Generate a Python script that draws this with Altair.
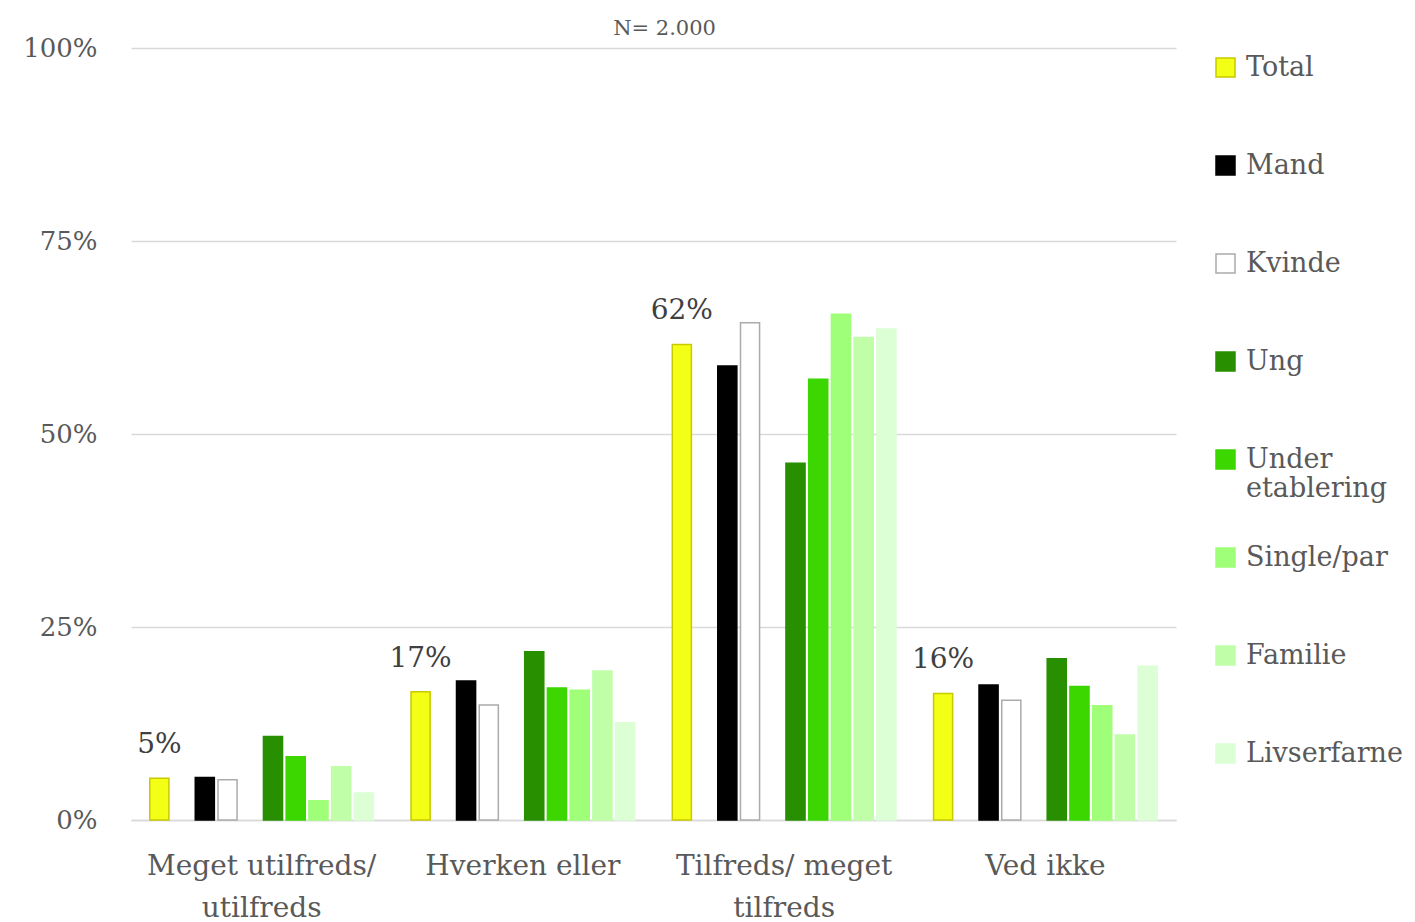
import altair as alt
import pandas as pd

categories = ["Meget utilfreds/ utilfreds", "Hverken eller", "Tilfreds/ meget tilfreds", "Ved ikke"]
series = ["Total", "Mand", "Kvinde", "Ung", "Under etablering", "Single/par", "Familie", "Livserfarne"]
slots = ["Total", "_gap1", "Mand", "Kvinde", "_gap2", "Ung", "Under etablering", "Single/par", "Familie", "Livserfarne"]

total = [0.054, 0.166, 0.616, 0.164]
mand = [0.055, 0.180, 0.588, 0.175]
kvinde = [0.052, 0.149, 0.644, 0.155]
ung = [0.108, 0.218, 0.462, 0.209]
under_etablering = [0.082, 0.171, 0.571, 0.173]
single_par = [0.025, 0.168, 0.655, 0.148]
familie = [0.069, 0.193, 0.625, 0.110]
livserfarne = [0.035, 0.126, 0.636, 0.199]

fill_colors = ["#F3FF14", "#000000", "#FFFFFF", "#288F00", "#3CD600", "#A0FF78", "#C0FFA8", "#DCFFD6"]
stroke_colors = ["#C9C900", "#000000", "#ABABAB", "#288F00", "#3CD600", "#A0FF78", "#C0FFA8", "#DCFFD6"]

series_values = [total, mand, kvinde, ung, under_etablering, single_par, familie, livserfarne]
rows = []
for s, vals in zip(series, series_values):
    for c, v in zip(categories, vals):
        rows.append({"category": c, "series": s, "value": v})
df = pd.DataFrame(rows)

FONT = "DejaVu Serif"
TXT = "#595959"

x = alt.X(
    "category:N",
    sort=categories,
    scale=alt.Scale(paddingInner=0.13, paddingOuter=0.065),
    axis=alt.Axis(
        title=None,
        labelAngle=0,
        labelFont=FONT,
        labelFontSize=28,
        labelColor=TXT,
        labelPadding=32,
        labelLineHeight=42,
        labelLimit=400,
        ticks=False,
        domainColor="#D9D9D9",
        domainWidth=1.5,
        labelExpr="datum.label == 'Meget utilfreds/ utilfreds' ? ['Meget utilfreds/', 'utilfreds'] : datum.label == 'Tilfreds/ meget tilfreds' ? ['Tilfreds/ meget', 'tilfreds'] : datum.label",
    ),
)
xo = alt.XOffset("series:N", scale=alt.Scale(domain=slots, paddingInner=0.16, paddingOuter=0.08))
y = alt.Y(
    "value:Q",
    scale=alt.Scale(domain=[0, 1]),
    axis=alt.Axis(
        title=None,
        format=".0%",
        values=[0, 0.25, 0.5, 0.75, 1],
        labelFont=FONT,
        labelFontSize=26,
        labelColor=TXT,
        labelPadding=34,
        ticks=False,
        domain=False,
        gridColor="#D9D9D9",
        gridWidth=1.5,
    ),
)

legend = alt.Legend(
    title=None,
    orient="none",
    legendX=1081,
    legendY=6,
    labelFont=FONT,
    labelFontSize=27,
    labelColor=TXT,
    labelLimit=400,
    labelOffset=7,
    symbolType="square",
    symbolSize=361,
    symbolStrokeWidth=1.5,
    rowPadding=41,
    gridAlign="all",
    labelExpr="datum.label == 'Under etablering' ? ['Under', 'etablering'] : datum.label",
)

bars = alt.Chart(df).mark_bar(strokeWidth=1.5).encode(
    x=x,
    xOffset=xo,
    y=y,
    fill=alt.Fill("series:N", scale=alt.Scale(domain=series, range=fill_colors), legend=legend),
    stroke=alt.Stroke("series:N", scale=alt.Scale(domain=series, range=stroke_colors), legend=legend),
)

labels = alt.Chart(df).transform_filter(alt.datum.series == "Total").mark_text(
    font=FONT, fontSize=28, color="#404040", baseline="middle", dy=-33
).encode(
    x=x,
    xOffset=xo,
    y=y,
    text=alt.Text("value:Q", format=".0%"),
)

chart = alt.layer(bars, labels).properties(
    width=1045,
    height=772,
    background="white",
    padding={"left": 14, "top": 10, "right": 0, "bottom": 5},
    title=alt.TitleParams("N= 2.000", font=FONT, fontSize=21, color=TXT, fontWeight="normal", anchor="middle", dx=11, offset=-4),
).configure_view(stroke=None)

chart.save("out.html", embed_options={"renderer": "svg", "actions": False})
